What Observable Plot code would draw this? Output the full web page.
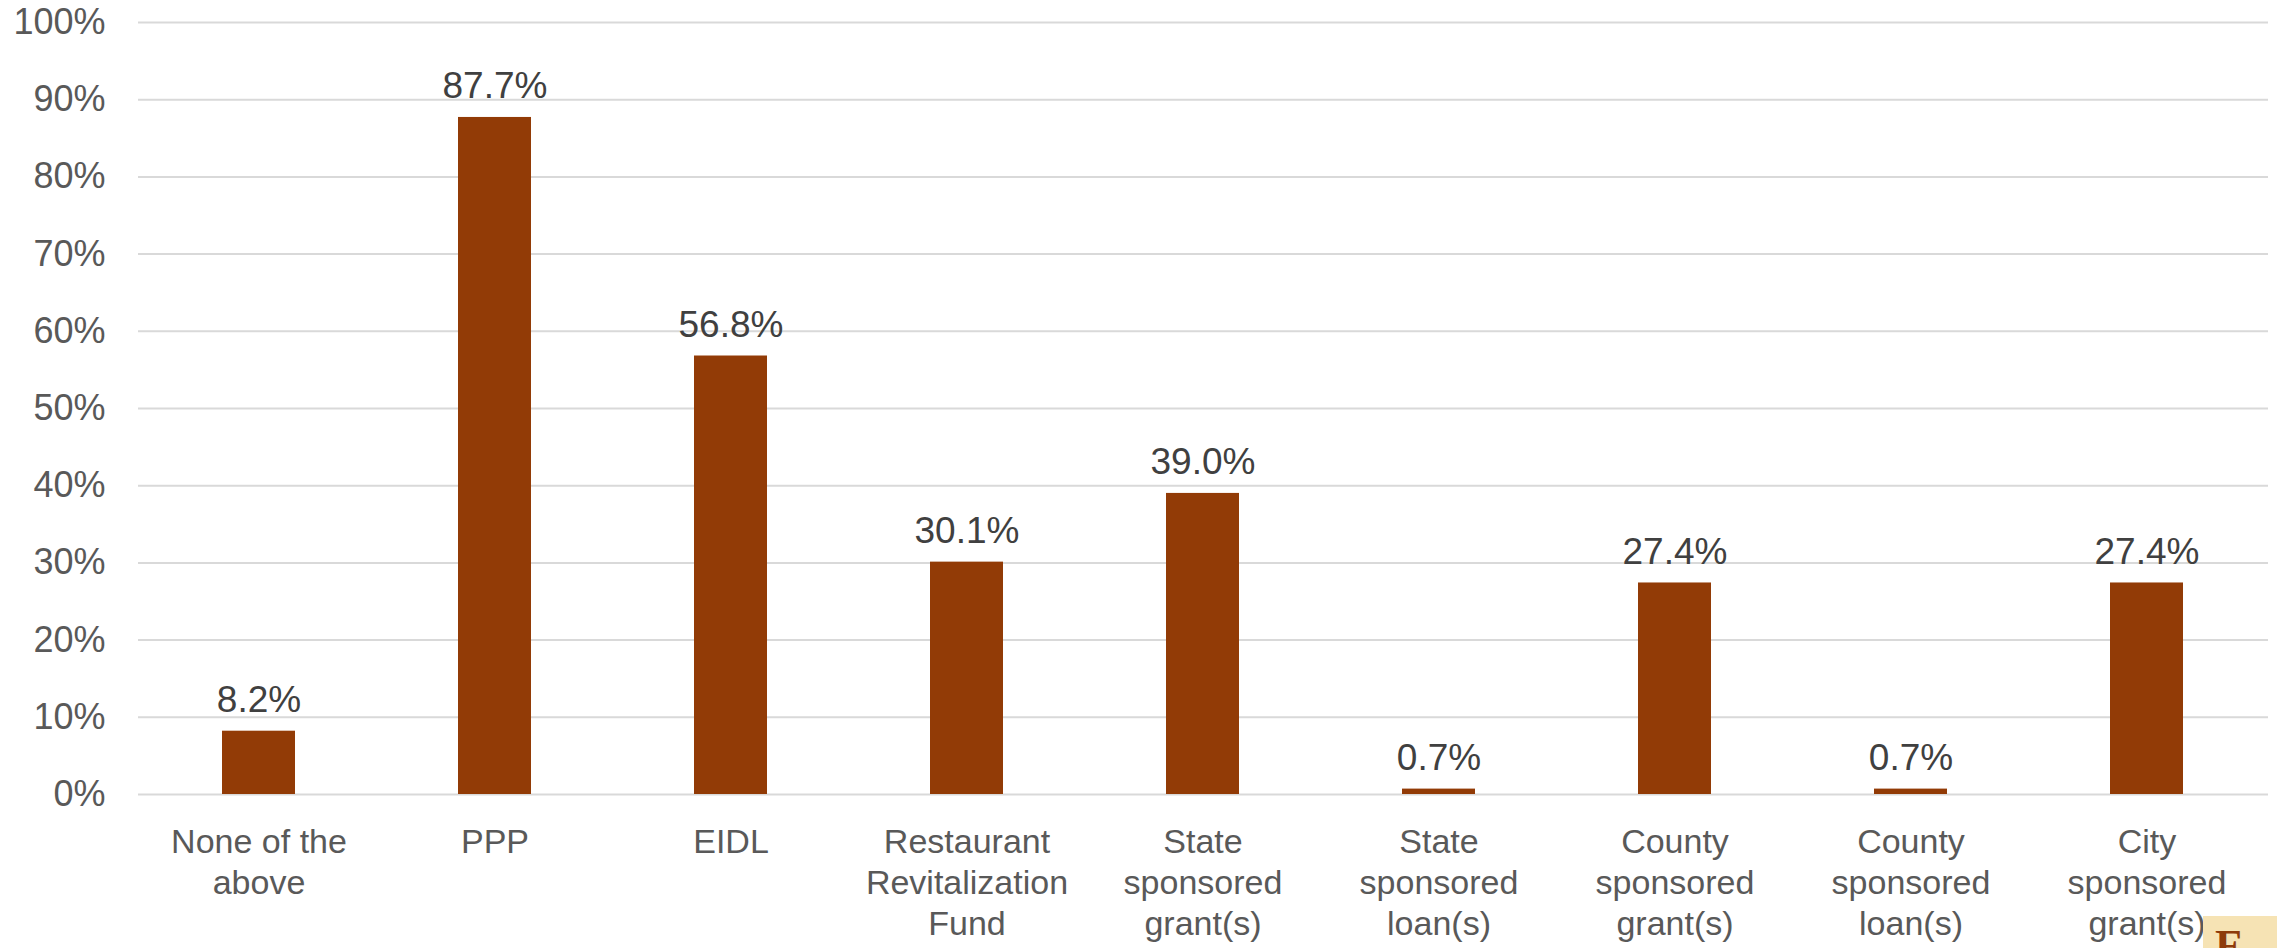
<!DOCTYPE html>
<html>
<head>
<meta charset="utf-8">
<script src="https://cdn.jsdelivr.net/npm/d3@7"></script>
<script src="https://cdn.jsdelivr.net/npm/@observablehq/plot@0.6"></script>
<style>
  html, body { margin: 0; padding: 0; background: #ffffff; }
  #chart { position: relative; width: 2277px; height: 948px; overflow: hidden; }
  #logo { position: absolute; left: 2203px; top: 916px; width: 80px; height: 40px; background: #f6e3b4; overflow: hidden; }
  #logo span { position: absolute; left: 12px; top: 4px; font-family: "Liberation Serif", serif; font-weight: bold; font-size: 44px; color: #8e3b0a; }
</style>
</head>
<body>
<div id="chart"></div>
<script>
const categories = [
  "None of the above",
  "PPP",
  "EIDL",
  "Restaurant Revitalization Fund",
  "State sponsored grant(s)",
  "State sponsored loan(s)",
  "County sponsored grant(s)",
  "County sponsored loan(s)",
  "City sponsored grant(s)"
];
const tickLabels = [
  "None of the\nabove",
  "PPP",
  "EIDL",
  "Restaurant\nRevitalization\nFund",
  "State\nsponsored\ngrant(s)",
  "State\nsponsored\nloan(s)",
  "County\nsponsored\ngrant(s)",
  "County\nsponsored\nloan(s)",
  "City\nsponsored\ngrant(s)"
];
const values = [0.082, 0.877, 0.568, 0.301, 0.390, 0.007, 0.274, 0.007, 0.274];
const yTicks = [0, 0.1, 0.2, 0.3, 0.4, 0.5, 0.6, 0.7, 0.8, 0.9, 1.0];

const data = categories.map((c, i) => ({category: c, value: values[i]}));
const labelOf = new Map(categories.map((c, i) => [c, tickLabels[i]]));

const chart = Plot.plot({
  width: 2277,
  height: 948,
  marginLeft: 138,
  marginRight: 9,
  marginTop: 22,
  marginBottom: 154,
  style: {fontFamily: "'Liberation Sans', Arial, sans-serif", background: "#ffffff"},
  x: {domain: categories, paddingInner: 0.69, paddingOuter: 0.345, align: 0.5},
  y: {domain: [0, 1]},
  marks: [
    Plot.gridY(yTicks, {stroke: "#d9d9d9", strokeOpacity: 1, strokeWidth: 2}),
    Plot.axisY(yTicks, {
      tickSize: 0, tickPadding: 33, fontSize: 36, color: "#595959",
      tickFormat: d => Math.round(d * 100) + "%", label: null
    }),
    Plot.axisX({
      tickSize: 0, tickPadding: 29, fontSize: 34, lineHeight: 1.21, color: "#595959",
      tickFormat: d => labelOf.get(d), label: null
    }),
    Plot.barY(data, {x: "category", y: "value", fill: "#923b06"}),
    Plot.text(data, {
      x: "category", y: "value",
      text: d => (d.value * 100).toFixed(1) + "%",
      lineAnchor: "bottom", dy: -19, fontSize: 37, fill: "#404040"
    })
  ]
});
document.getElementById("chart").appendChild(chart);
const logo = document.createElement("div");
logo.id = "logo";
logo.innerHTML = "<span>F</span>";
document.getElementById("chart").appendChild(logo);
</script>
</body>
</html>
